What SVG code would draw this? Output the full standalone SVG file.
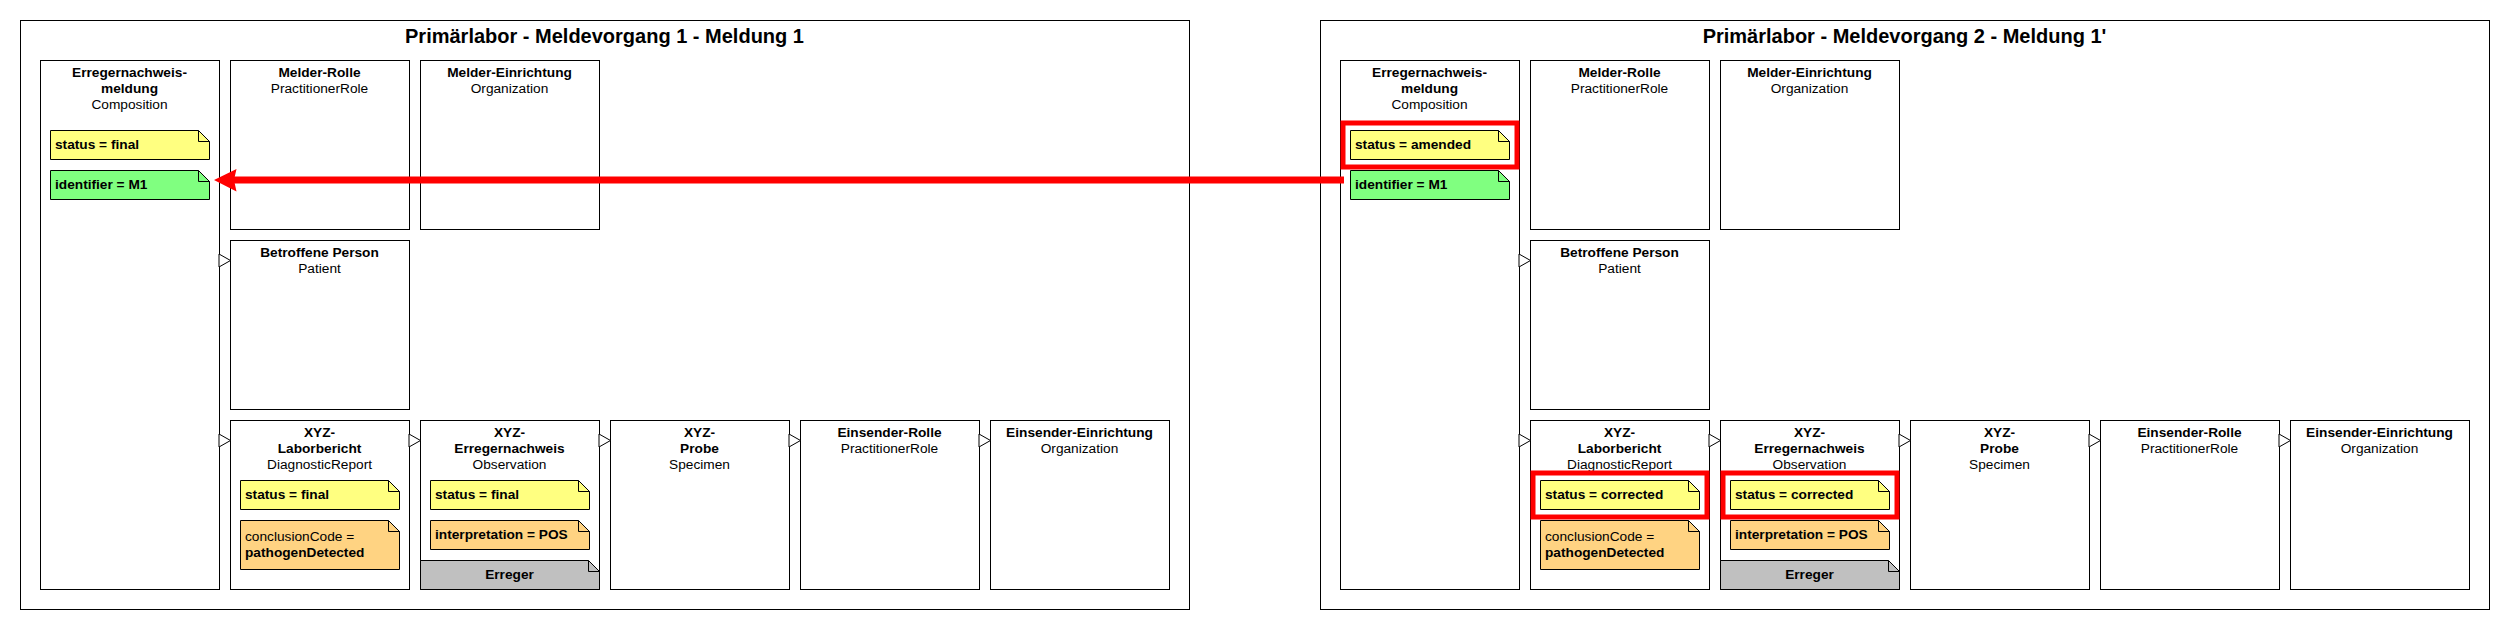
<svg xmlns="http://www.w3.org/2000/svg" width="2510" height="630" viewBox="0 0 2510 630">
<style>
text{font-family:"Liberation Sans",Arial,sans-serif;font-size:13.7px;fill:#000}
.b{font-weight:bold}
.c{text-anchor:middle}
.title{font-size:20px;font-weight:bold;text-anchor:middle}
.frame,.box{fill:#fff;stroke:#000;stroke-width:1}
.yel{fill:#FFFF80;stroke:#000;stroke-width:1}
.grn{fill:#80FF80;stroke:#000;stroke-width:1}
.org{fill:#FFD382;stroke:#000;stroke-width:1}
.gry{fill:#C0C0C0;stroke:#000;stroke-width:1}
.fold{fill:none;stroke:#000;stroke-width:1}
.hl{fill:none;stroke:#FF0000;stroke-width:5}
.tri{fill:#fff;stroke:#000;stroke-width:1}
</style>
<defs>
<path id="tri" class="tri" d="M-11.5,-6.5L0,0L-11.5,6.5Z"/>
</defs>

<!-- Frame 1 -->
<g id="frame1">
<rect class="frame" x="20.5" y="20.5" width="1169" height="589"/>
<text class="title" x="604.5" y="43">Primärlabor - Meldevorgang 1 - Meldung 1</text>
</g>
<g id="f1-composition">
<rect class="box" x="40.5" y="60.5" width="179" height="529"/>
<text class="b c" x="129.5" y="77">Erregernachweis-</text>
<text class="b c" x="129.5" y="93">meldung</text>
<text class="c" x="129.5" y="109">Composition</text>
<path class="yel" d="M50.5,130.5H198.5L209.5,141.5V159.5H50.5Z"/><path class="fold" d="M198.5,130.5V141.5H209.5"/>
<text class="b" x="55" y="149">status = final</text>
<path class="grn" d="M50.5,170.5H198.5L209.5,181.5V199.5H50.5Z"/><path class="fold" d="M198.5,170.5V181.5H209.5"/>
<text class="b" x="55" y="189">identifier = M1</text>
</g>
<g id="f1-melder-rolle">
<rect class="box" x="230.5" y="60.5" width="179" height="169"/>
<text class="b c" x="319.5" y="77">Melder-Rolle</text>
<text class="c" x="319.5" y="93">PractitionerRole</text>
</g>
<g id="f1-melder-einrichtung">
<rect class="box" x="420.5" y="60.5" width="179" height="169"/>
<text class="b c" x="509.5" y="77">Melder-Einrichtung</text>
<text class="c" x="509.5" y="93">Organization</text>
</g>
<g id="f1-patient">
<rect class="box" x="230.5" y="240.5" width="179" height="169"/>
<text class="b c" x="319.5" y="257">Betroffene Person</text>
<text class="c" x="319.5" y="273">Patient</text>
</g>
<g id="f1-laborbericht">
<rect class="box" x="230.5" y="420.5" width="179" height="169"/>
<text class="b c" x="319.5" y="437">XYZ-</text>
<text class="b c" x="319.5" y="453">Laborbericht</text>
<text class="c" x="319.5" y="469">DiagnosticReport</text>
<path class="yel" d="M240.5,480.5H388.5L399.5,491.5V509.5H240.5Z"/><path class="fold" d="M388.5,480.5V491.5H399.5"/>
<text class="b" x="245" y="499">status = final</text>
<path class="org" d="M240.5,520.5H388.5L399.5,531.5V569.5H240.5Z"/><path class="fold" d="M388.5,520.5V531.5H399.5"/>
<text x="245" y="541">conclusionCode =</text>
<text class="b" x="245" y="557">pathogenDetected</text>
</g>
<g id="f1-observation">
<rect class="box" x="420.5" y="420.5" width="179" height="169"/>
<text class="b c" x="509.5" y="437">XYZ-</text>
<text class="b c" x="509.5" y="453">Erregernachweis</text>
<text class="c" x="509.5" y="469">Observation</text>
<path class="yel" d="M430.5,480.5H578.5L589.5,491.5V509.5H430.5Z"/><path class="fold" d="M578.5,480.5V491.5H589.5"/>
<text class="b" x="435" y="499">status = final</text>
<path class="org" d="M430.5,520.5H578.5L589.5,531.5V549.5H430.5Z"/><path class="fold" d="M578.5,520.5V531.5H589.5"/>
<text class="b" x="435" y="539">interpretation = POS</text>
<path class="gry" d="M420.5,560.5H588.5L599.5,571.5V589.5H420.5Z"/><path class="fold" d="M588.5,560.5V571.5H599.5"/>
<text class="b c" x="509.5" y="579">Erreger</text>
</g>
<g id="f1-probe">
<rect class="box" x="610.5" y="420.5" width="179" height="169"/>
<text class="b c" x="699.5" y="437">XYZ-</text>
<text class="b c" x="699.5" y="453">Probe</text>
<text class="c" x="699.5" y="469">Specimen</text>
</g>
<g id="f1-einsender-rolle">
<rect class="box" x="800.5" y="420.5" width="179" height="169"/>
<text class="b c" x="889.5" y="437">Einsender-Rolle</text>
<text class="c" x="889.5" y="453">PractitionerRole</text>
</g>
<g id="f1-einsender-einrichtung">
<rect class="box" x="990.5" y="420.5" width="179" height="169"/>
<text class="b c" x="1079.5" y="437">Einsender-Einrichtung</text>
<text class="c" x="1079.5" y="453">Organization</text>
</g>

<!-- Frame 2 -->
<g id="frame2">
<rect class="frame" x="1320.5" y="20.5" width="1169" height="589"/>
<text class="title" x="1904.5" y="43">Primärlabor - Meldevorgang 2 - Meldung 1'</text>
</g>
<g id="f2-composition">
<rect class="box" x="1340.5" y="60.5" width="179" height="529"/>
<text class="b c" x="1429.5" y="77">Erregernachweis-</text>
<text class="b c" x="1429.5" y="93">meldung</text>
<text class="c" x="1429.5" y="109">Composition</text>
<path class="yel" d="M1350.5,130.5H1498.5L1509.5,141.5V159.5H1350.5Z"/><path class="fold" d="M1498.5,130.5V141.5H1509.5"/>
<text class="b" x="1355" y="149">status = amended</text>
<rect class="hl" x="1343" y="123" width="174" height="44"/>
<path class="grn" d="M1350.5,170.5H1498.5L1509.5,181.5V199.5H1350.5Z"/><path class="fold" d="M1498.5,170.5V181.5H1509.5"/>
<text class="b" x="1355" y="189">identifier = M1</text>
</g>
<g id="f2-melder-rolle">
<rect class="box" x="1530.5" y="60.5" width="179" height="169"/>
<text class="b c" x="1619.5" y="77">Melder-Rolle</text>
<text class="c" x="1619.5" y="93">PractitionerRole</text>
</g>
<g id="f2-melder-einrichtung">
<rect class="box" x="1720.5" y="60.5" width="179" height="169"/>
<text class="b c" x="1809.5" y="77">Melder-Einrichtung</text>
<text class="c" x="1809.5" y="93">Organization</text>
</g>
<g id="f2-patient">
<rect class="box" x="1530.5" y="240.5" width="179" height="169"/>
<text class="b c" x="1619.5" y="257">Betroffene Person</text>
<text class="c" x="1619.5" y="273">Patient</text>
</g>
<g id="f2-laborbericht">
<rect class="box" x="1530.5" y="420.5" width="179" height="169"/>
<text class="b c" x="1619.5" y="437">XYZ-</text>
<text class="b c" x="1619.5" y="453">Laborbericht</text>
<text class="c" x="1619.5" y="469">DiagnosticReport</text>
<path class="yel" d="M1540.5,480.5H1688.5L1699.5,491.5V509.5H1540.5Z"/><path class="fold" d="M1688.5,480.5V491.5H1699.5"/>
<text class="b" x="1545" y="499">status = corrected</text>
<rect class="hl" x="1533" y="473" width="174" height="44"/>
<path class="org" d="M1540.5,520.5H1688.5L1699.5,531.5V569.5H1540.5Z"/><path class="fold" d="M1688.5,520.5V531.5H1699.5"/>
<text x="1545" y="541">conclusionCode =</text>
<text class="b" x="1545" y="557">pathogenDetected</text>
</g>
<g id="f2-observation">
<rect class="box" x="1720.5" y="420.5" width="179" height="169"/>
<text class="b c" x="1809.5" y="437">XYZ-</text>
<text class="b c" x="1809.5" y="453">Erregernachweis</text>
<text class="c" x="1809.5" y="469">Observation</text>
<path class="yel" d="M1730.5,480.5H1878.5L1889.5,491.5V509.5H1730.5Z"/><path class="fold" d="M1878.5,480.5V491.5H1889.5"/>
<text class="b" x="1735" y="499">status = corrected</text>
<rect class="hl" x="1723" y="473" width="174" height="44"/>
<path class="org" d="M1730.5,520.5H1878.5L1889.5,531.5V549.5H1730.5Z"/><path class="fold" d="M1878.5,520.5V531.5H1889.5"/>
<text class="b" x="1735" y="539">interpretation = POS</text>
<path class="gry" d="M1720.5,560.5H1888.5L1899.5,571.5V589.5H1720.5Z"/><path class="fold" d="M1888.5,560.5V571.5H1899.5"/>
<text class="b c" x="1809.5" y="579">Erreger</text>
</g>
<g id="f2-probe">
<rect class="box" x="1910.5" y="420.5" width="179" height="169"/>
<text class="b c" x="1999.5" y="437">XYZ-</text>
<text class="b c" x="1999.5" y="453">Probe</text>
<text class="c" x="1999.5" y="469">Specimen</text>
</g>
<g id="f2-einsender-rolle">
<rect class="box" x="2100.5" y="420.5" width="179" height="169"/>
<text class="b c" x="2189.5" y="437">Einsender-Rolle</text>
<text class="c" x="2189.5" y="453">PractitionerRole</text>
</g>
<g id="f2-einsender-einrichtung">
<rect class="box" x="2290.5" y="420.5" width="179" height="169"/>
<text class="b c" x="2379.5" y="437">Einsender-Einrichtung</text>
<text class="c" x="2379.5" y="453">Organization</text>
</g>

<!-- Connectors -->
<g id="connectors">
<use href="#tri" transform="translate(230.5,260.5)"/>
<use href="#tri" transform="translate(230.5,440.5)"/>
<use href="#tri" transform="translate(420.5,440.5)"/>
<use href="#tri" transform="translate(610.5,440.5)"/>
<use href="#tri" transform="translate(800.5,440.5)"/>
<use href="#tri" transform="translate(990.5,440.5)"/>
<use href="#tri" transform="translate(1530.5,260.5)"/>
<use href="#tri" transform="translate(1530.5,440.5)"/>
<use href="#tri" transform="translate(1720.5,440.5)"/>
<use href="#tri" transform="translate(1910.5,440.5)"/>
<use href="#tri" transform="translate(2100.5,440.5)"/>
<use href="#tri" transform="translate(2290.5,440.5)"/>
<line x1="1344" y1="180" x2="234" y2="180" stroke="#FF0000" stroke-width="7"/>
<path d="M214,180L236.5,169L234,180L236.5,191.5Z" fill="#FF0000"/>
</g>
</svg>
